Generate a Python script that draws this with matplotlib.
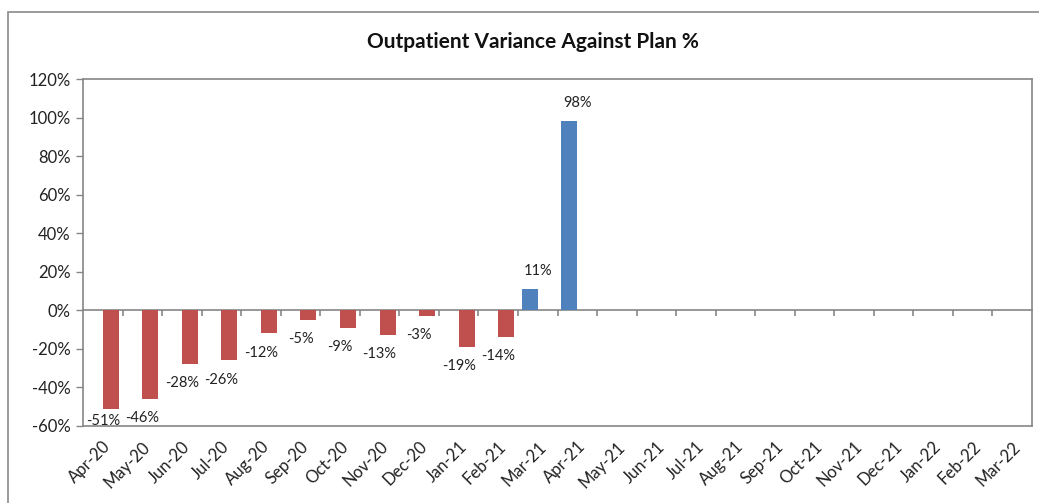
import matplotlib
matplotlib.use("Agg")
import matplotlib.pyplot as plt
from matplotlib.patches import Rectangle
from matplotlib.ticker import FuncFormatter
import numpy as np

# months shown on the axis (only the first 13 have data)
months = ['Apr-20', 'May-20', 'Jun-20', 'Jul-20', 'Aug-20', 'Sep-20', 'Oct-20',
          'Nov-20', 'Dec-20', 'Jan-21', 'Feb-21', 'Mar-21', 'Apr-21', 'May-21',
          'Jun-21', 'Jul-21', 'Aug-21', 'Sep-21', 'Oct-21', 'Nov-21', 'Dec-21',
          'Jan-22', 'Feb-22', 'Mar-22']
variance = [-51, -46, -28, -26, -12, -5, -9, -13, -3, -19, -14, 11, 98]

y_ticks = [-60, -40, -20, 0, 20, 40, 60, 80, 100, 120]

plt.rcParams['font.family'] = ['Lato', 'DejaVu Sans']

fig = plt.figure(figsize=(10.39, 5.03), dpi=100)
ax = fig.add_axes([83/1039, 1 - 426/503, (1032 - 83)/1039, (426 - 79)/503])

# outer chart border (cut by the image edges on right and bottom)
fig.patches.append(Rectangle((8/1039, -0.1), 1.2, 1 - 12/503 + 0.1,
                             transform=fig.transFigure, fill=False,
                             edgecolor='#8a8a8a', linewidth=1.2))

x = np.arange(len(variance))
pos = [v if v > 0 else 0 for v in variance]
neg = [v if v < 0 else 0 for v in variance]
w = 0.405

# two series like the excel chart: positive (blue, left slot), negative (red, right slot)
ax.bar(x - w/2, pos, width=w, color='#4F81BD', zorder=3)
ax.bar(x + w/2, neg, width=w, color='#C0504D', zorder=3)

for i, v in enumerate(variance):
    if v >= 0:
        ax.text(i, v + 9.3, f'{v}%', ha='center', va='center', fontsize=10.5, color='#222222')
    else:
        ax.text(i, max(v - 9.9, -57.3), f'{v}%', ha='center', va='center', fontsize=10.5, color='#222222')

ax.set_xlim(-0.5, len(months) - 0.5)
ax.set_ylim(-60, 120)
ax.set_yticks(y_ticks)
ax.yaxis.set_major_formatter(FuncFormatter(lambda v, p: f'{int(v)}%'))
ax.tick_params(axis='y', direction='out', length=5, width=1, color='#868686',
               labelsize=12, labelcolor='#222222', pad=4)

ax.set_xticks(np.arange(len(months)))
ax.set_xticklabels(months, rotation=45, ha='right', rotation_mode='anchor')
ax.tick_params(axis='x', length=0, labelsize=12, labelcolor='#222222', pad=9)

for s in ax.spines.values():
    s.set_color('#868686')
    s.set_linewidth(1.2)

# horizontal category axis at zero with ticks between categories
sec = ax.secondary_xaxis(60/180)
sec.set_xticks(np.arange(1, len(months)) - 0.5)
sec.tick_params(direction='out', length=4, width=1.2, color='#868686', labelbottom=False, labeltop=False)
sec.spines['bottom'].set_color('#868686')
sec.spines['bottom'].set_linewidth(1.2)
sec.spines['top'].set_color('#868686')
sec.spines['top'].set_linewidth(1.2)

fig.text(533/1039, 1 - 42/503, 'Outpatient Variance Against Plan %', ha='center', va='center',
         fontsize=15, fontweight='bold', color='#111111')

fig.savefig('out.png', dpi=100)
